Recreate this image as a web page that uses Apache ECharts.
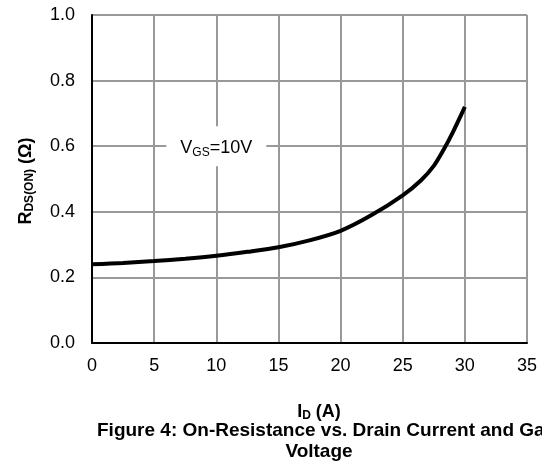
<!DOCTYPE html>
<html>
<head>
<meta charset="utf-8">
<script src="https://cdn.jsdelivr.net/npm/echarts@6/dist/echarts.min.js"></script>
<style>
html,body{margin:0;padding:0;background:#fff;}
#c{width:542px;height:466px;}
</style>
</head>
<body>
<div id="c"></div>
<script>
// Drain current I_D (A)
var currentA = [0, 2.5, 5, 7.5, 10, 12.5, 15, 17.5, 20, 22.5, 25, 26.5, 27.5, 28.3, 29, 30];
// On-resistance R_DS(ON) (Ω) at VGS = 10V
var rdsOn = [0.240, 0.244, 0.250, 0.257, 0.266, 0.278, 0.292, 0.313, 0.342, 0.390, 0.450, 0.497, 0.540, 0.590, 0.640, 0.720];
var xTicks = [0, 5, 10, 15, 20, 25, 30, 35];
var yTicks = [0.0, 0.2, 0.4, 0.6, 0.8, 1.0];
var annotation = {x: 10, y: 0.6, main: 'V', sub: 'GS', rest: '=10V'};
var titleLines = ['Figure 4: On-Resistance vs. Drain Current and Gate', 'Voltage'];

var FONT = '"Liberation Sans", Arial, sans-serif';
var chart = echarts.init(document.getElementById('c'), null, {renderer: 'canvas'});

var seriesData = currentA.map(function (x, i) { return [x, rdsOn[i]]; });

function subRich(bold) {
  var w = bold ? 'bold' : 'normal';
  return {
    r: {fontFamily: FONT, fontSize: 18, fontWeight: w, color: '#000', fill: '#000', verticalAlign: 'bottom', lineHeight: 22},
    s: {fontFamily: FONT, fontSize: 12, fontWeight: w, color: '#000', fill: '#000', verticalAlign: 'top', lineHeight: 11, padding: [11, 0, 0, 0]}
  };
}

chart.setOption({
  animation: false,
  backgroundColor: '#fff',
  grid: {left: 92, right: 15, top: 15, bottom: 123, containLabel: false},
  xAxis: {
    type: 'value',
    min: xTicks[0], max: xTicks[xTicks.length - 1], interval: 5,
    axisLine: {show: true, onZero: false, lineStyle: {color: '#000', width: 2}},
    axisTick: {show: false},
    splitLine: {show: true, lineStyle: {color: '#999', width: 2}},
    axisLabel: {color: '#000', fontFamily: FONT, fontSize: 18, margin: 14}
  },
  yAxis: {
    type: 'value',
    min: yTicks[0], max: yTicks[yTicks.length - 1], interval: 0.2,
    axisLine: {show: true, onZero: false, lineStyle: {color: '#000', width: 2}},
    axisTick: {show: false},
    splitLine: {show: true, lineStyle: {color: '#999', width: 2}},
    axisLabel: {color: '#000', fontFamily: FONT, fontSize: 18, margin: 17,
      formatter: function (v) { return v.toFixed(1); }}
  },
  graphic: [
    {type: 'line', shape: {x1: 527, y1: 15, x2: 527, y2: 343}, style: {stroke: '#999', lineWidth: 2}, silent: true},
    {
      type: 'text', x: 24, y: 181, rotation: Math.PI / 2,
      style: {
        text: '{r|R}{s|DS(ON)}{r| (Ω)}',
        align: 'center', verticalAlign: 'middle',
        rich: subRich(true)
      }
    },
    {
      type: 'text', x: 319, y: 410,
      style: {
        text: '{r|I}{s|D}{r| (A)}',
        align: 'center', verticalAlign: 'middle',
        rich: subRich(true)
      }
    },
    {
      type: 'text', x: 97, y: 431,
      style: {
        text: titleLines[0],
        align: 'left', verticalAlign: 'middle',
        fontFamily: FONT, fontSize: 19, fontWeight: 'bold', fill: '#000'
      }
    },
    {
      type: 'text', x: 319, y: 452,
      style: {
        text: titleLines[1],
        align: 'center', verticalAlign: 'middle',
        fontFamily: FONT, fontSize: 19, fontWeight: 'bold', fill: '#000'
      }
    }
  ],
  series: [{
    type: 'line',
    data: seriesData,
    smooth: 0.3,
    showSymbol: false,
    lineStyle: {color: '#000', width: 4},
    z: 3,
    markPoint: {
      silent: true,
      symbol: 'rect',
      symbolSize: [100, 40],
      itemStyle: {color: '#fff'},
      label: {
        show: true, position: 'inside',
        formatter: '{r|' + annotation.main + '}{s|' + annotation.sub + '}{r|' + annotation.rest + '}',
        rich: subRich(false)
      },
      data: [{coord: [annotation.x, annotation.y]}]
    }
  }]
});
</script>
</body>
</html>
